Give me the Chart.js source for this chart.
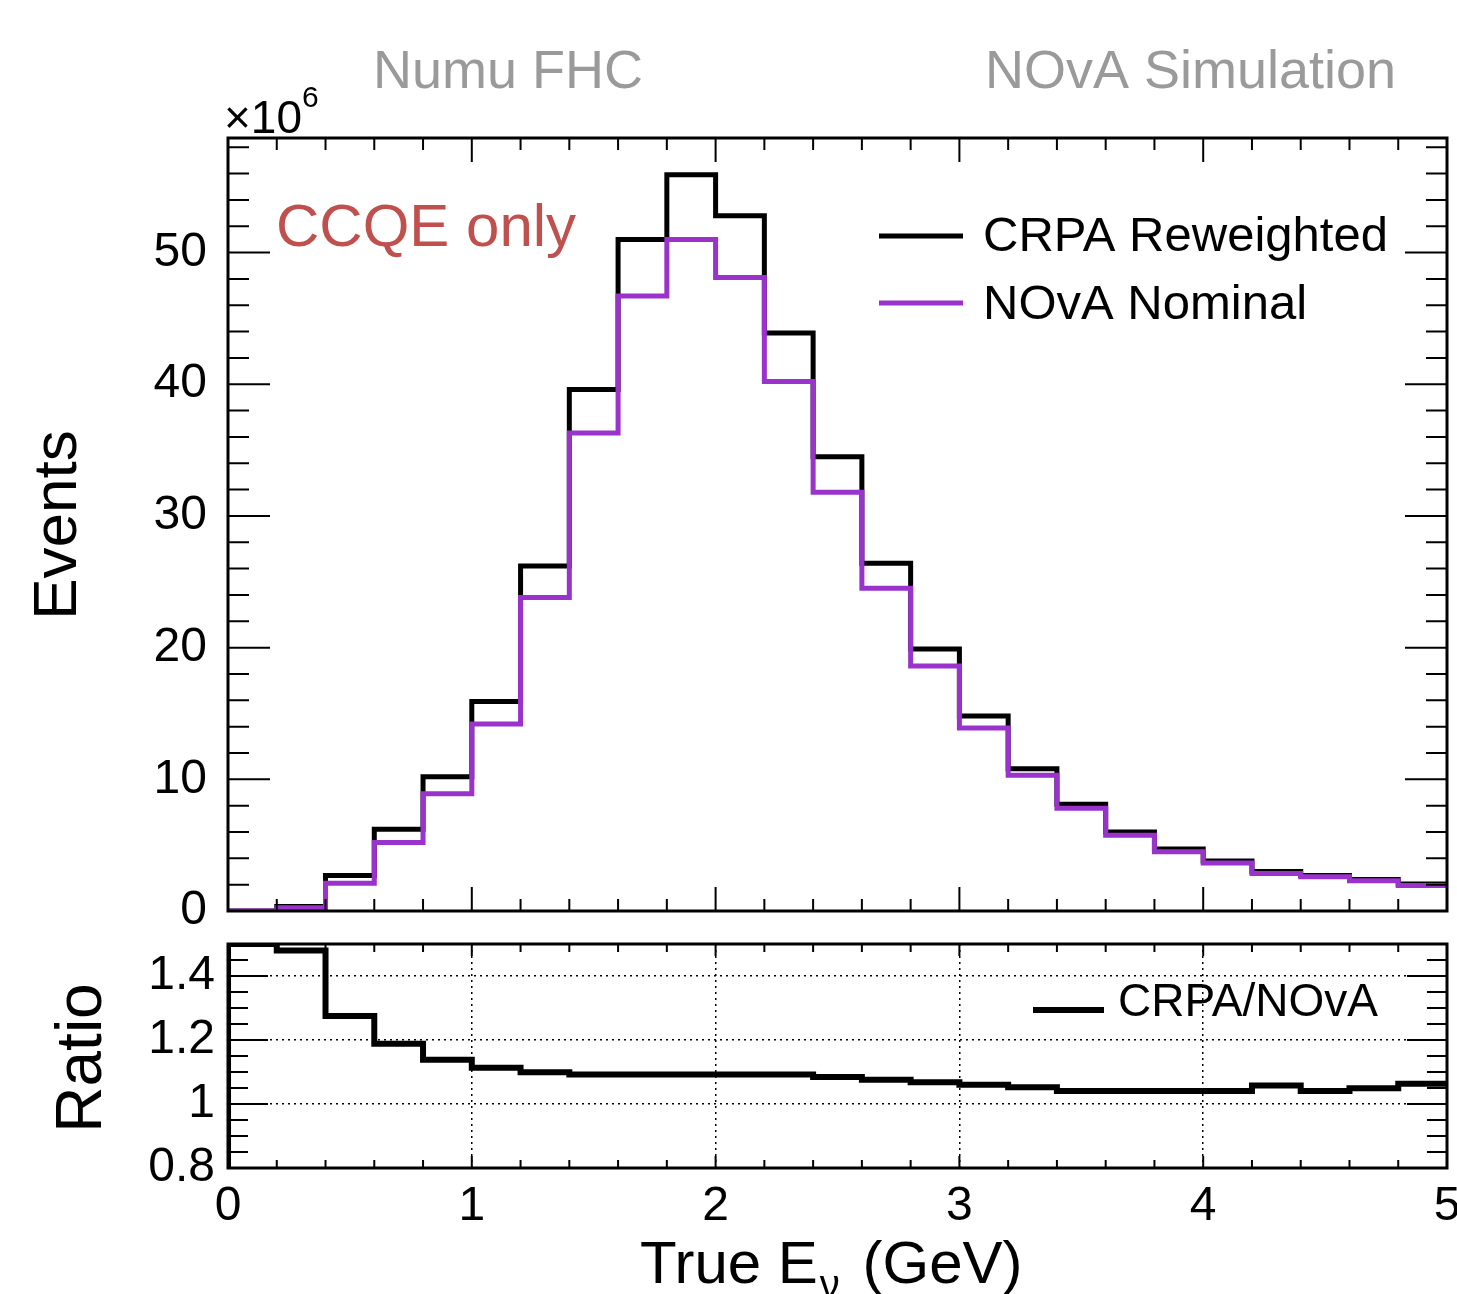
<!DOCTYPE html>
<html>
<head>
<meta charset="utf-8">
<script src="https://cdn.jsdelivr.net/npm/chart.js@4"></script>
<style>
  body { margin: 0; background: #fff; }
  #wrap { position: relative; width: 1457px; height: 1294px; overflow: hidden; }
  #main { position: absolute; left: 0; top: 0; }
  #ratio { position: absolute; left: 0; top: 930px; }
</style>
</head>
<body>
<div id="wrap">
  <canvas id="main" width="1457" height="930"></canvas>
  <canvas id="ratio" width="1457" height="364"></canvas>
</div>
<script>
// bin edges (GeV), 0.2 wide
const binEdges = [0, 0.2, 0.4, 0.6, 0.8, 1.0, 1.2, 1.4, 1.6, 1.8, 2.0, 2.2, 2.4,
  2.6, 2.8, 3.0, 3.2, 3.4, 3.6, 3.8, 4.0, 4.2, 4.4, 4.6, 4.8, 5.0];
// events per bin (x10^6)
const crpa = [0, 0.35, 2.7, 6.2, 10.2, 15.9, 26.2, 39.6, 51.0, 55.9, 52.8, 43.9, 34.5,
  26.4, 19.9, 14.8, 10.8, 8.1, 6.0, 4.7, 3.8, 3.0, 2.7, 2.4, 2.05];
const nova = [0, 0.24, 2.1, 5.2, 8.9, 14.2, 23.8, 36.3, 46.7, 51.0, 48.1, 40.2, 31.8,
  24.5, 18.6, 13.9, 10.3, 7.8, 5.75, 4.5, 3.65, 2.85, 2.6, 2.3, 1.93];
// CRPA/NOvA ratio per bin
const ratio = [1.5, 1.48, 1.275, 1.188, 1.138, 1.113, 1.099, 1.092, 1.092, 1.092, 1.092,
  1.092, 1.084, 1.076, 1.068, 1.06, 1.052, 1.041, 1.041, 1.041, 1.041, 1.058, 1.041,
  1.049, 1.063];

const yTicksMain = [0, 10, 20, 30, 40, 50];
const yTicksRatio = [0.8, 1.0, 1.2, 1.4];
const yLabelsRatio = ["0.8", "1", "1.2", "1.4"];
const xTicks = [0, 1, 2, 3, 4, 5];
const xLabels = ["0", "1", "2", "3", "4", "5"];

const purple = "#9933cc";
const font = "Liberation Sans, Arial, sans-serif";

// histogram -> step points
function steps(vals) {
  const pts = vals.map((v, i) => ({ x: binEdges[i], y: v }));
  pts.push({ x: binEdges[vals.length], y: vals[vals.length - 1] });
  return pts;
}

// tick list: [value, length]
function makeTicks(min, max, step, majors, majLen, minLen) {
  const out = [];
  for (let v = min; v <= max + 1e-9; v += step) {
    const r = Math.round(v * 1000) / 1000;
    const isMajor = majors.some((m) => Math.abs(m - r) < 1e-6);
    out.push([r, isMajor ? majLen : minLen]);
  }
  return out;
}

// fixed axis sizes, no label overflow padding
function fixWidth(w) {
  return (s) => { s.width = w; s.paddingTop = 0; s.paddingBottom = 0; };
}

// ROOT style frame with inward ticks on all sides
const rootFrame = {
  id: "rootFrame",
  afterDatasetsDraw(chart, args, opts) {
    const { ctx, chartArea: a, scales } = chart;
    ctx.save();
    ctx.strokeStyle = "#000";
    ctx.lineWidth = 2;
    ctx.beginPath();
    opts.xTicks.forEach(([v, len]) => {
      const px = scales.x.getPixelForValue(v);
      ctx.moveTo(px, a.bottom);
      ctx.lineTo(px, a.bottom - len);
      ctx.moveTo(px, a.top);
      ctx.lineTo(px, a.top + len);
    });
    opts.yTicks.forEach(([v, len]) => {
      const py = scales.y.getPixelForValue(v);
      ctx.moveTo(a.left, py);
      ctx.lineTo(a.left + len, py);
      ctx.moveTo(a.right, py);
      ctx.lineTo(a.right - len, py);
    });
    ctx.stroke();
    ctx.lineWidth = 3;
    ctx.strokeRect(a.left, a.top, a.width, a.height);
    ctx.restore();
  },
};

function legendLine(ctx, x1, x2, y, color, w) {
  ctx.strokeStyle = color;
  ctx.lineWidth = w;
  ctx.beginPath();
  ctx.moveTo(x1, y);
  ctx.lineTo(x2, y);
  ctx.stroke();
}

// texts on the top pad
const mainText = {
  id: "mainText",
  afterDraw(chart) {
    const ctx = chart.ctx;
    const ds = chart.data.datasets;
    ctx.save();
    ctx.textBaseline = "alphabetic";
    ctx.fillStyle = "#9a9a9a";
    ctx.font = "54px " + font;
    ctx.fillText("Numu FHC", 373, 88);
    ctx.fillText("NOvA Simulation", 985, 88);

    ctx.fillStyle = "#000";
    ctx.font = "46px " + font;
    ctx.fillText("\u00d710", 224, 133);
    const w = ctx.measureText("\u00d710").width;
    ctx.font = "30px " + font;
    ctx.fillText("6", 224 + w, 107);

    ctx.fillStyle = "#c0504d";
    ctx.font = "60px " + font;
    ctx.fillText("CCQE only", 276, 246);

    // legend
    ctx.font = "49px " + font;
    ctx.fillStyle = "#000";
    legendLine(ctx, 879, 963, 236, ds[0].borderColor, 5);
    ctx.fillText(ds[0].label, 983, 251);
    legendLine(ctx, 879, 963, 303, ds[1].borderColor, 5);
    ctx.fillText(ds[1].label, 983, 319);

    // y title
    ctx.translate(76, 525);
    ctx.rotate(-Math.PI / 2);
    ctx.textAlign = "center";
    ctx.font = "62px " + font;
    ctx.fillText("Events", 0, 0);
    ctx.restore();
  },
};

// texts on the ratio pad
const ratioText = {
  id: "ratioText",
  afterDraw(chart) {
    const ctx = chart.ctx;
    const ds = chart.data.datasets;
    ctx.save();
    ctx.fillStyle = "#000";
    ctx.textBaseline = "alphabetic";

    legendLine(ctx, 1033, 1104, 80, "#000", 6);
    ctx.font = "46px " + font;
    ctx.fillText(ds[0].label, 1118, 86);

    // x title with subscript nu
    ctx.font = "60px " + font;
    let x = 640;
    ctx.fillText("True E", x, 353);
    x += ctx.measureText("True E").width;
    ctx.font = "40px " + font;
    ctx.fillText("\u03bd", x + 2, 368);
    x += ctx.measureText("\u03bd").width + 8;
    ctx.font = "60px " + font;
    ctx.fillText(" (GeV)", x, 353);

    ctx.translate(101, 128);
    ctx.rotate(-Math.PI / 2);
    ctx.textAlign = "center";
    ctx.font = "64px " + font;
    ctx.fillText("Ratio", 0, 0);
    ctx.restore();
  },
};

const lineStyle = {
  stepped: true,
  pointRadius: 0,
  tension: 0,
  borderJoinStyle: "miter",
  borderCapStyle: "butt",
  fill: false,
};

// top pad
new Chart(document.getElementById("main"), {
  type: "line",
  data: {
    datasets: [
      { ...lineStyle, label: "CRPA Reweighted", data: steps(crpa), borderColor: "#000", borderWidth: 5, order: 2 },
      { ...lineStyle, label: "NOvA Nominal", data: steps(nova), borderColor: purple, borderWidth: 5, order: 1 },
    ],
  },
  options: {
    responsive: false,
    animation: false,
    layout: { padding: { top: 138, right: 10, bottom: 19, left: 0 } },
    scales: {
      x: { type: "linear", min: 0, max: 5, display: false },
      y: {
        type: "linear",
        min: 0,
        max: 58.7,
        afterFit: fixWidth(228),
        afterBuildTicks: (s) => { s.ticks = yTicksMain.map((v) => ({ value: v })); },
        grid: { display: false },
        border: { display: false },
        ticks: { color: "#000", padding: 13, font: { family: font, size: 48 }, callback: (v) => String(v) },
      },
    },
    plugins: {
      legend: { display: false },
      tooltip: { enabled: false },
      rootFrame: {
        xTicks: makeTicks(0, 5, 0.2, xTicks, 24, 12),
        yTicks: makeTicks(0, 58, 2, yTicksMain, 42, 21),
      },
    },
  },
  plugins: [rootFrame, mainText],
});

// ratio pad
const ratioPts = steps(ratio);
ratioPts.unshift({ x: binEdges[0], y: yTicksRatio[0] });

new Chart(document.getElementById("ratio"), {
  type: "line",
  data: {
    datasets: [
      { ...lineStyle, label: "CRPA/NOvA", data: ratioPts, borderColor: "#000", borderWidth: 6 },
    ],
  },
  options: {
    responsive: false,
    animation: false,
    layout: { padding: { top: 14, right: 10, bottom: 0, left: 0 } },
    scales: {
      x: {
        type: "linear",
        min: 0,
        max: 5,
        afterFit: (s) => { s.height = 126; s.paddingLeft = 0; s.paddingRight = 0; },
        afterBuildTicks: (s) => { s.ticks = xTicks.map((v) => ({ value: v })); },
        grid: { color: "#000", lineWidth: 1.5, drawTicks: false },
        border: { display: false, dash: [2, 4] },
        ticks: {
          color: "#000", padding: 10, maxRotation: 0, autoSkip: false,
          font: { family: font, size: 48 },
          callback: (v, i) => xLabels[i],
        },
      },
      y: {
        type: "linear",
        min: 0.8,
        max: 1.5,
        afterFit: fixWidth(228),
        afterBuildTicks: (s) => { s.ticks = yTicksRatio.map((v) => ({ value: v })); },
        grid: { color: "#000", lineWidth: 1.5, drawTicks: false },
        border: { display: false, dash: [2, 4] },
        ticks: {
          color: "#000", padding: 13, autoSkip: false,
          font: { family: font, size: 48 },
          callback: (v, i) => yLabelsRatio[i],
        },
      },
    },
    plugins: {
      legend: { display: false },
      tooltip: { enabled: false },
      rootFrame: {
        xTicks: makeTicks(0, 5, 0.2, xTicks, 12, 8),
        yTicks: makeTicks(0.8, 1.5, 0.05, yTicksRatio, 40, 20),
      },
    },
  },
  plugins: [rootFrame, ratioText],
});
</script>
</body>
</html>
